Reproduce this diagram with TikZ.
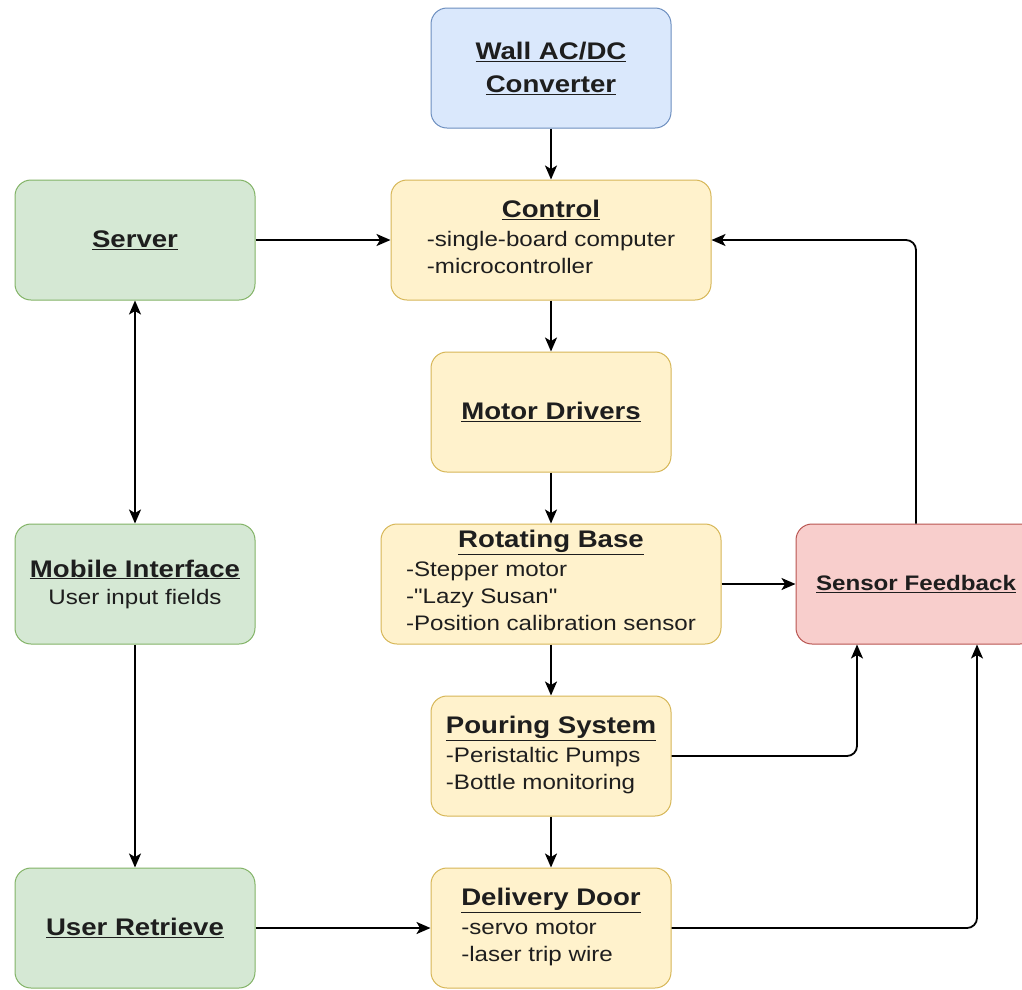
\documentclass[tikz,border=0pt]{standalone}
\usepackage{fontspec}
\setmainfont[FakeStretch=1.15]{Liberation Sans}
\newfontfamily\rawfont[FakeStretch=1.15,Ligatures=TeXOff]{Liberation Sans}
\usetikzlibrary{positioning,arrows.meta}

\definecolor{bluefill}{HTML}{DAE8FC}
\definecolor{blueline}{HTML}{6C8EBF}
\definecolor{yelfill}{HTML}{FFF2CC}
\definecolor{yelline}{HTML}{D6B656}
\definecolor{grnfill}{HTML}{D5E8D4}
\definecolor{grnline}{HTML}{82B366}
\definecolor{redfill}{HTML}{F8CECC}
\definecolor{redline}{HTML}{B85450}
\definecolor{txt}{HTML}{1E1E1E}

\newcommand{\boxtitle}[1]{{\fontsize{24}{28}\selectfont\bfseries\underline{#1}}}
\newcommand{\boxlist}[2]{\begin{tabular}{@{}l@{}}\multicolumn{1}{@{}c@{}}{\boxtitle{#1}}\\[2pt]#2\end{tabular}}

\tikzset{
  block/.style={rectangle, rounded corners=16pt, minimum width=240pt, minimum height=120pt,
    inner sep=0pt, line width=1pt, text=txt, align=center, font=\fontsize{21}{27}\selectfont},
  power/.style={block, fill=bluefill, draw=blueline},
  logic/.style={block, fill=yelfill, draw=yelline},
  user/.style={block, fill=grnfill, draw=grnline},
  sense/.style={block, fill=redfill, draw=redline},
  link/.style={line width=1.8pt, rounded corners=10pt},
}

\begin{document}
\begin{tikzpicture}[x=1pt, y=-1pt, >={Stealth[length=14pt,width=12pt,inset=3.5pt]}]
\useasboundingbox (0,0) rectangle (1022,989);

% nodes
\node [power] (wall) at (551, 68) {\boxtitle{Wall AC/DC}\\[6pt]\boxtitle{Converter}};
\node [logic, minimum width=320pt] (ctrl) at (551, 240) {\boxlist{Control}{-single-board computer\\-microcontroller}};
\node [user] (server) at (135, 240) {\boxtitle{Server}};
\node [logic] (motor) at (551, 412) {\boxtitle{Motor Drivers}};
\node [logic, minimum width=340pt] (rotate) at (551, 584) {\boxlist{Rotating Base}{-Stepper motor\\{\rawfont -"Lazy Susan"}\\-Position calibration sensor}};
\node [user] (mobile) at (135, 584) {\boxtitle{Mobile Interface}\\User input fields};
\node [sense] (sensor) at (916, 584) {{\bfseries\underline{Sensor Feedback}}};
\node [logic] (pour) at (551, 756) {\boxlist{Pouring System}{-Peristaltic Pumps\\-Bottle monitoring}};
\node [user] (retrieve) at (135, 928) {\boxtitle{User Retrieve}};
\node [logic] (door) at (551, 928) {\boxlist{Delivery Door}{-servo motor\\-laser trip wire}};

% arrows
\draw [link, ->] (wall) to (ctrl);
\draw [link, ->] (server) to (ctrl);
\draw [link, ->] (ctrl) to (motor);
\draw [link, ->] (motor) to (rotate);
\draw [link, ->] (rotate) to (pour);
\draw [link, ->] (pour) to (door);
\draw [link, <->] (server) to (mobile);
\draw [link, ->] (mobile) to (retrieve);
\draw [link, ->] (retrieve) to (door);
\draw [link, ->] (rotate) to (sensor);

% feedback
\draw [link, ->] (sensor.north) |- (ctrl.east);
\draw [link, ->] (pour.east) -| ([xshift=-59pt]sensor.south);
\draw [link, ->] (door.east) -| ([xshift=61pt]sensor.south);

\end{tikzpicture}
\end{document}
